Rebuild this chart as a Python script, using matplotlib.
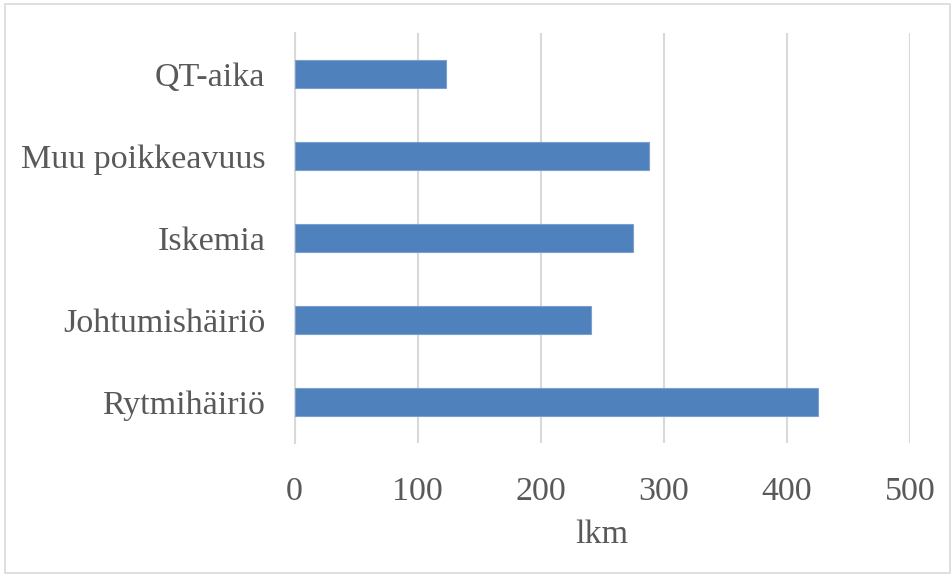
import matplotlib
matplotlib.use("Agg")
import matplotlib.pyplot as plt
from matplotlib.patches import Rectangle

categories = ["Rytmihäiriö", "Johtumishäiriö", "Iskemia", "Muu poikkeavuus", "QT-aika"]
values = [425, 241, 275, 288, 123]
xticks = [0, 100, 200, 300, 400, 500]
xlabel = "lkm"

plt.rcParams['font.family'] = ['Liberation Serif', 'DejaVu Serif']
txt = '#595959'

fig = plt.figure(figsize=(9.53, 5.75), dpi=100)
ax = fig.add_axes([294.5/953, 1-443/575, (910-294.5)/953, (443-33)/575])
ax.barh(range(len(categories)), values, height=0.34, color='#4F81BD',
        edgecolor='#7aa0d0', linewidth=0.8, zorder=3)
ax.set_xlim(0, 500)
ax.set_ylim(-0.5, len(categories)-0.5)
ax.set_xticks(xticks)
ax.set_xticklabels([str(t) for t in xticks])
ax.set_yticks(range(len(categories)))
ax.set_yticklabels(categories)
ax.grid(axis='x', color='#d9d9d9', linewidth=1.5, zorder=0)
for s in ['top', 'right', 'bottom']:
    ax.spines[s].set_visible(False)
ax.spines['left'].set_color('#d9d9d9')
ax.spines['left'].set_linewidth(1.5)
ax.tick_params(axis='x', length=0, pad=24, labelsize=24.5, labelcolor=txt)
ax.tick_params(axis='y', length=0, pad=21, labelsize=24.5, labelcolor=txt)
ax.set_xlabel(xlabel, fontsize=24.5, color=txt, labelpad=9)

fig.patches.append(Rectangle((5/953, 2/575), 945/953, 569/575, transform=fig.transFigure,
                             fill=False, edgecolor='#d9d9d9', linewidth=1.2))
fig.savefig("out.png", dpi=100)
